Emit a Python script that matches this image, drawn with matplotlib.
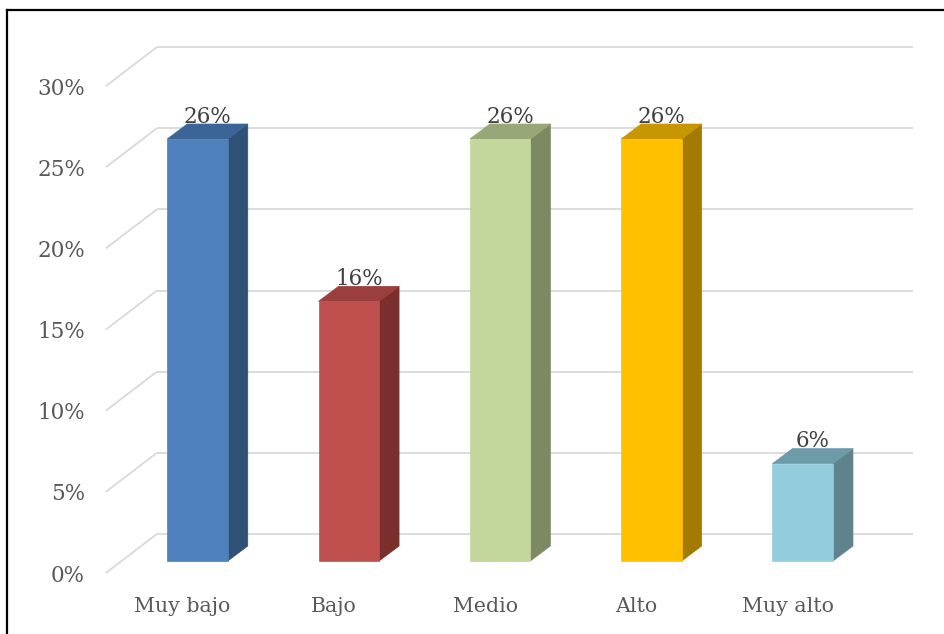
import matplotlib
matplotlib.use('Agg')
import matplotlib.pyplot as plt
from matplotlib.patches import Polygon
from matplotlib.lines import Line2D

# ---- data ----
categories = ['Muy bajo', 'Bajo', 'Medio', 'Alto', 'Muy alto']
values = [26, 16, 26, 26, 6]
tick_values = [0, 5, 10, 15, 20, 25, 30]
tick_labels = ['0%', '5%', '10%', '15%', '20%', '25%', '30%']
data_labels = ['26%', '16%', '26%', '26%', '6%']

# ---- styles ----
front_colors = ['#4F81BD', '#C0504D', '#C3D69B', '#FFC000', '#93CDDD']
top_colors = ['#3C6597', '#9A3F3D', '#98A778', '#C89600', '#6E9BA8']
side_colors = ['#2F5176', '#7A2F2D', '#7D8963', '#A37B00', '#5E838D']

W, H = 944, 634
fig = plt.figure(figsize=(W / 100, H / 100), dpi=100)
ax = fig.add_axes([0, 0, 1, 1])

PX_X = 151.3   # pixels per category
PX_Y = 16.23   # pixels per percent
X0, Y0 = 197.5, 561
ax.set_xlim(-X0 / PX_X, (W - X0) / PX_X)
ax.set_ylim((Y0 - H) / PX_Y, Y0 / PX_Y)
ax.axis('off')

BACK = (35 / PX_X, 27 / PX_Y)
FRONT = (-16 / PX_X, -12 / PX_Y)
DEPTH = (20 / PX_X, 15 / PX_Y)
half = 0.2
xl, xr = -0.5, len(categories) - 0.5

font = 'DejaVu Serif'
fs_tick = 15.5
fs_data = 15.5
fs_cat = 14.8
grid_c = '#D9D9D9'

for v, lab in zip(tick_values, tick_labels):
    ax.plot([xl + BACK[0], xr + BACK[0]], [v + BACK[1], v + BACK[1]],
            color=grid_c, lw=1.3, zorder=1, solid_capstyle='butt')
    ax.plot([xl + FRONT[0], xl + BACK[0]], [v + FRONT[1], v + BACK[1]],
            color=grid_c, lw=1.3, zorder=1, solid_capstyle='butt')
    ax.text((85 - X0) / PX_X, v + FRONT[1], lab, ha='right', va='center_baseline',
            fontsize=fs_tick, family=font, color='#595959')

for i, (v, fc, tc, sc, dl) in enumerate(zip(values, front_colors, top_colors,
                                             side_colors, data_labels)):
    dx, dy = DEPTH
    front = [(i - half, 0), (i + half, 0), (i + half, v), (i - half, v)]
    side = [(i + half, 0), (i + half + dx, dy), (i + half + dx, v + dy), (i + half, v)]
    top = [(i - half, v), (i + half, v), (i + half + dx, v + dy), (i - half + dx, v + dy)]
    for pts, c in ((side, sc), (top, tc), (front, fc)):
        ax.add_patch(Polygon(pts, closed=True, facecolor=c, edgecolor=c,
                             lw=0.5, zorder=3))
    ax.text(i + dx / 2, v + dy + 0.07, dl, ha='center', va='baseline',
            fontsize=fs_data, family=font, color='#404040', zorder=5)
    ax.text(i - 15 / PX_X, -43 / PX_Y, categories[i], ha='center',
            va='center_baseline', fontsize=fs_cat, family=font, color='#595959')

# outer frame (top and left edges visible)
fig.add_artist(Line2D([7 / W, 1.0], [1 - 10 / H, 1 - 10 / H],
                      transform=fig.transFigure, color='black', lw=1.6))
fig.add_artist(Line2D([7 / W, 7 / W], [0, 1 - 10 / H],
                      transform=fig.transFigure, color='black', lw=1.6))

fig.savefig('out.png', dpi=100)
